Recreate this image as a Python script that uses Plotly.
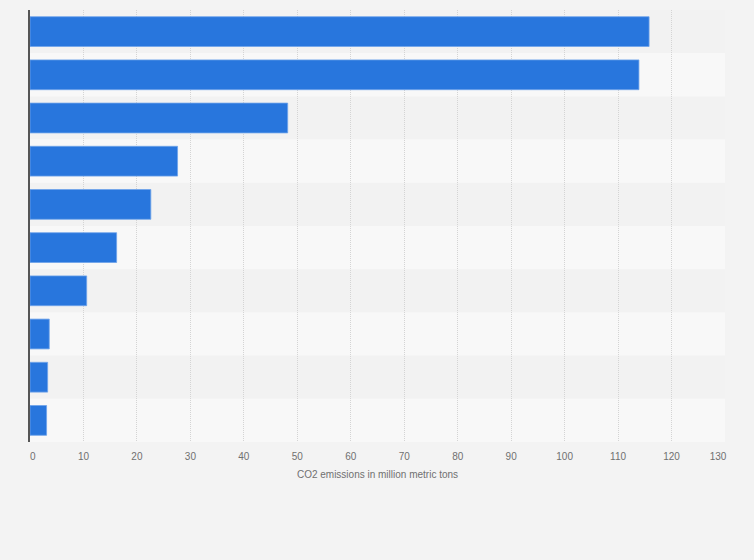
import plotly.graph_objects as go

categories = ["A", "B", "C", "D", "E", "F", "G", "H", "I", "J"]
values = [115.8, 113.9, 48.2, 27.6, 22.6, 16.2, 10.6, 3.6, 3.3, 3.1]
x_ticks = list(range(0, 131, 10))
x_title = "CO2 emissions in million metric tons"

fig = go.Figure()
fig.add_trace(go.Bar(
    x=values, y=categories, orientation="h",
    marker=dict(color="#2876dd", line=dict(color="#6fa3ea", width=0.8)),
    hoverinfo="x",
))

shapes = []
for i, c in enumerate(categories):
    shapes.append(dict(
        type="rect", xref="paper", yref="y",
        x0=0, x1=1, y0=i - 0.5, y1=i + 0.5,
        fillcolor="#f2f2f2" if i % 2 == 0 else "#f8f8f8",
        line=dict(width=0), layer="below",
    ))

fig.update_layout(
    width=754, height=560,
    margin=dict(l=30, r=29, t=10, b=118),
    paper_bgcolor="#f3f3f3", plot_bgcolor="#f8f8f8",
    bargap=0.31, showlegend=False, shapes=shapes,
    font=dict(family="Liberation Sans, Arial, sans-serif", color="#707070", size=10),
    xaxis=dict(
        range=[0, 130], tickvals=x_ticks,
        ticktext=["  0"] + [str(t) for t in x_ticks[1:-1]] + ["130" + "\u00a0" * 5],
        showgrid=True, gridcolor="#d4d4d4", griddash="1px,1px", gridwidth=1,
        zeroline=False, showline=False, ticks="outside", ticklen=5, tickcolor="rgba(0,0,0,0)",
        tickfont=dict(size=10, color="#707070"),
        title=dict(text=x_title, font=dict(size=10, color="#707070"), standoff=9),
        layer="below traces",
    ),
    yaxis=dict(
        categoryorder="array", categoryarray=categories, autorange="reversed",
        showticklabels=False, showgrid=False, zeroline=False,
        showline=True, linecolor="#555555", linewidth=1.5, ticks="",
    ),
)

fig.write_html("out.html", config={"displayModeBar": False})
with open("out.html", "r", encoding="utf-8") as f:
    html = f.read()
html = html.replace("<head>", "<head><style>html,body{margin:0;padding:0;overflow:hidden;}</style>", 1)
with open("out.html", "w", encoding="utf-8") as f:
    f.write(html)
